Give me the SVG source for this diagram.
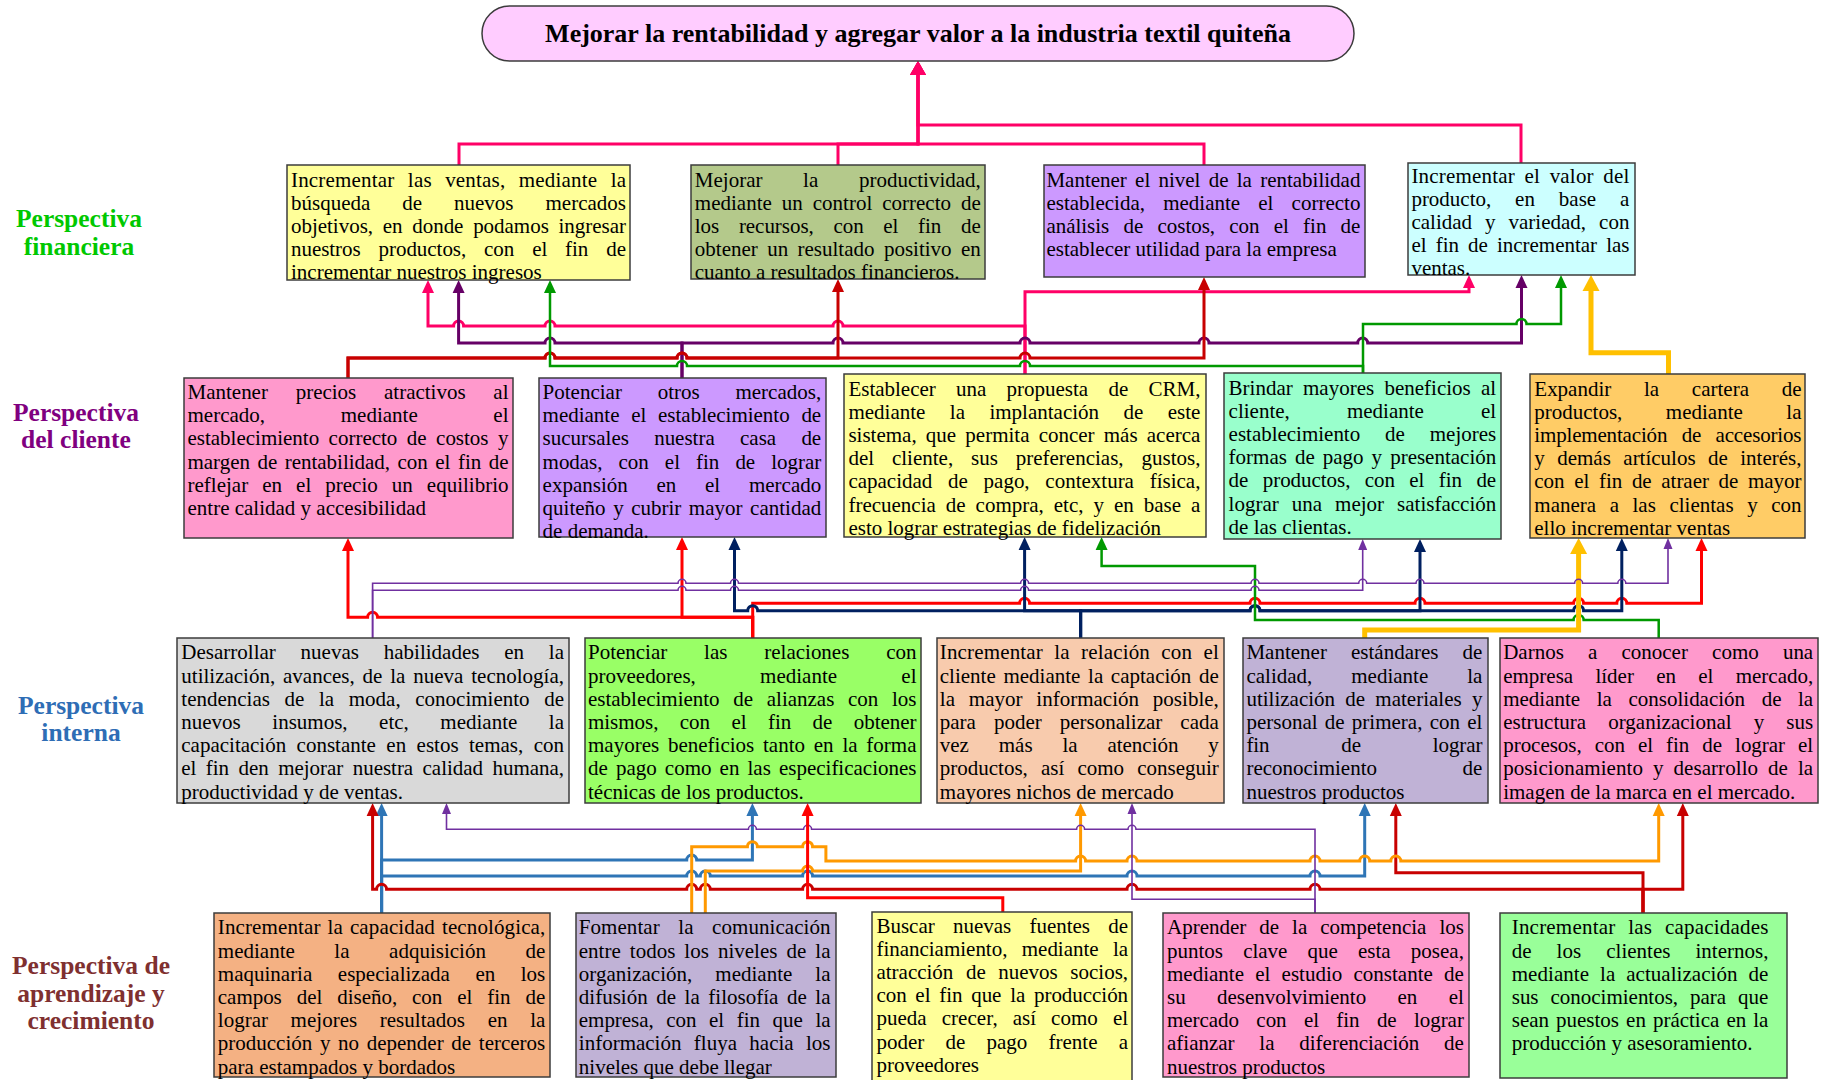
<svg xmlns="http://www.w3.org/2000/svg" width="1830" height="1080" viewBox="0 0 1830 1080">
<defs>
<style>
.t{font-family:"Liberation Serif","Times New Roman",serif;font-size:21px;fill:#000}
.ttl{font-family:"Liberation Serif","Times New Roman",serif;font-weight:bold;font-size:26px;fill:#000;text-anchor:middle}
.h{font-family:"Liberation Serif","Times New Roman",serif;font-weight:bold;font-size:25.5px;text-anchor:middle}
.b{stroke:#3c3c3c;stroke-width:1.5}
.w{fill:none;stroke-linejoin:miter;stroke-linecap:butt}
.pkT{stroke:#FF0066;stroke-width:3;marker-end:url(#aPkT)}
.pk{stroke:#FF0066;stroke-width:3;marker-end:url(#aPk)}
.pu{stroke:#660066;stroke-width:3;marker-end:url(#aPu)}
.dr{stroke:#C80000;stroke-width:3;marker-end:url(#aDr)}
.gr{stroke:#009900;stroke-width:2.5;marker-end:url(#aGr)}
.go{stroke:#FFC000;stroke-width:5;marker-end:url(#aGo)}
.rd{stroke:#FF0000;stroke-width:3;marker-end:url(#aRd)}
.nv{stroke:#002060;stroke-width:3;marker-end:url(#aNv)}
.th{stroke:#7030A0;stroke-width:1.6;marker-end:url(#aTh)}
.bl{stroke:#2E75B6;stroke-width:3;marker-end:url(#aBl)}
.or{stroke:#FF9900;stroke-width:3;marker-end:url(#aOr)}
</style>
<marker id="aPkT" markerUnits="userSpaceOnUse" markerWidth="14" markerHeight="16" refX="0" refY="8" orient="auto" overflow="visible"><path d="M0,0L14,8L0,16z" fill="#FF0066"/></marker>
<marker id="aPk" markerUnits="userSpaceOnUse" markerWidth="13" markerHeight="12" refX="0" refY="6" orient="auto" overflow="visible"><path d="M0,0L13,6L0,12z" fill="#FF0066"/></marker>
<marker id="aPu" markerUnits="userSpaceOnUse" markerWidth="13" markerHeight="12" refX="0" refY="6" orient="auto" overflow="visible"><path d="M0,0L13,6L0,12z" fill="#660066"/></marker>
<marker id="aDr" markerUnits="userSpaceOnUse" markerWidth="13" markerHeight="12" refX="0" refY="6" orient="auto" overflow="visible"><path d="M0,0L13,6L0,12z" fill="#C80000"/></marker>
<marker id="aGr" markerUnits="userSpaceOnUse" markerWidth="13" markerHeight="12" refX="0" refY="6" orient="auto" overflow="visible"><path d="M0,0L13,6L0,12z" fill="#009900"/></marker>
<marker id="aGo" markerUnits="userSpaceOnUse" markerWidth="16" markerHeight="17" refX="0" refY="8.5" orient="auto" overflow="visible"><path d="M0,0L16,8.5L0,17z" fill="#FFC000"/></marker>
<marker id="aRd" markerUnits="userSpaceOnUse" markerWidth="13" markerHeight="12" refX="0" refY="6" orient="auto" overflow="visible"><path d="M0,0L13,6L0,12z" fill="#FF0000"/></marker>
<marker id="aNv" markerUnits="userSpaceOnUse" markerWidth="13" markerHeight="12" refX="0" refY="6" orient="auto" overflow="visible"><path d="M0,0L13,6L0,12z" fill="#002060"/></marker>
<marker id="aTh" markerUnits="userSpaceOnUse" markerWidth="11" markerHeight="9" refX="0" refY="4.5" orient="auto" overflow="visible"><path d="M0,0L11,4.5L0,9z" fill="#7030A0"/></marker>
<marker id="aBl" markerUnits="userSpaceOnUse" markerWidth="13" markerHeight="12" refX="0" refY="6" orient="auto" overflow="visible"><path d="M0,0L13,6L0,12z" fill="#2E75B6"/></marker>
<marker id="aOr" markerUnits="userSpaceOnUse" markerWidth="13" markerHeight="12" refX="0" refY="6" orient="auto" overflow="visible"><path d="M0,0L13,6L0,12z" fill="#FF9900"/></marker>
</defs>
<rect width="1830" height="1080" fill="#fff"/>

<!-- row labels -->
<g id="labels">
<text class="h" fill="#00C800" x="79" y="227">Perspectiva</text>
<text class="h" fill="#00C800" x="79" y="255">financiera</text>
<text class="h" fill="#800080" x="76" y="421">Perspectiva</text>
<text class="h" fill="#800080" x="76" y="448">del cliente</text>
<text class="h" fill="#2E6DB5" x="81" y="714">Perspectiva</text>
<text class="h" fill="#2E6DB5" x="81" y="741">interna</text>
<text class="h" fill="#7F3030" x="91" y="974">Perspectiva de</text>
<text class="h" fill="#7F3030" x="91" y="1001.5">aprendizaje y</text>
<text class="h" fill="#7F3030" x="91" y="1029">crecimiento</text>
</g>

<!-- connectors -->
<g id="connectors" class="w">
<!-- financial to goal -->
<path class="pkT" d="M459,165V144H918V75"/>
<path class="pkT" d="M838,165V144H918V75"/>
<path class="pkT" d="M1204,165V144H918V75"/>
<path class="pkT" d="M1521,163V125H918V75"/>
<!-- client to financial -->
<path class="pk" d="M1025,374V326H843a5,5 0 0 0 -10,0H555a5,5 0 0 0 -10,0H463.6a5,5 0 0 0 -10,0H428V293"/>
<path class="pk" d="M1025,374V291.7H1469V288"/>
<path class="pu" d="M682,378V343H555a5,5 0 0 0 -10,0H458.6V293"/>
<path class="pu" d="M682,378V343H833a5,5 0 0 1 10,0H1020a5,5 0 0 1 10,0H1199a5,5 0 0 1 10,0H1357.7a5,5 0 0 1 10,0H1521.5V288"/>
<path class="dr" d="M348,378V358H545a5,5 0 0 1 10,0H677a5,5 0 0 1 10,0H838V292"/>
<path class="dr" d="M348,378V358H545a5,5 0 0 1 10,0H677a5,5 0 0 1 10,0H1020a5,5 0 0 1 10,0H1204V290"/>
<path class="gr" d="M1363,373V366H1030a5,5 0 0 0 -10,0H687a5,5 0 0 0 -10,0H550V293"/>
<path class="gr" d="M1363,373V324H1516.5a5,5 0 0 1 10,0H1561V288"/>
<path class="go" d="M1668.5,374V352.7H1591V291"/>
<!-- internal to client -->
<path class="rd" d="M752.7,638V617.3H377.6a5,5 0 0 0 -10,0H348V551"/>
<path class="rd" d="M752.7,638V617.3H682V550"/>
<path class="rd" d="M752.7,638V603.3H1019.6a5,5 0 0 1 10,0H1250a5,5 0 0 1 10,0H1415a5,5 0 0 1 10,0H1573.6a5,5 0 0 1 10,0H1616.8a5,5 0 0 1 10,0H1701.5V551"/>
<path class="nv" d="M1080.6,638V610.7H757.7a5,5 0 0 0 -10,0H734.5V550"/>
<path class="nv" d="M1080.6,638V610.7H1024.6V550"/>
<path class="nv" d="M1080.6,638V610.7H1250a5,5 0 0 1 10,0H1420V552"/>
<path class="nv" d="M1080.6,638V610.7H1250a5,5 0 0 1 10,0H1573.6a5,5 0 0 1 10,0H1621.8V551"/>
<path class="gr" d="M1658.7,638V620H1583.6a5,5 0 0 0 -10,0H1255V566H1101.6V550"/>
<path class="go" d="M1364.7,638V630H1578.6V554"/>
<path class="th" d="M372.6,638V590.3H678a4,4 0 0 1 8,0H730.5a4,4 0 0 1 8,0H1020.6a4,4 0 0 1 8,0H1251a4,4 0 0 1 8,0H1362.7V550"/>
<path class="th" d="M372.6,638V583.3H678a4,4 0 0 1 8,0H730.5a4,4 0 0 1 8,0H1020.6a4,4 0 0 1 8,0H1251a4,4 0 0 1 8,0H1358.7a4,4 0 0 1 8,0H1416a4,4 0 0 1 8,0H1574.6a4,4 0 0 1 8,0H1617.8a4,4 0 0 1 8,0H1668V549"/>
<!-- learning to internal -->
<path class="bl" d="M381.6,913V816"/>
<path class="bl" d="M381.6,913V860H686.7a5,5 0 0 1 10,0H752.4V816"/>
<path class="bl" d="M381.6,913V876H686.7a5,5 0 0 1 10,0H700.3a5,5 0 0 1 10,0H802.6a5,5 0 0 1 10,0H1127a5,5 0 0 1 10,0H1310a5,5 0 0 1 10,0H1364.7V816"/>
<path class="dr" d="M1643,913V889.3H1320a5,5 0 0 0 -10,0H1137a5,5 0 0 0 -10,0H812.6a5,5 0 0 0 -10,0H710.3a5,5 0 0 0 -10,0H696.7a5,5 0 0 0 -10,0H386.6a5,5 0 0 0 -10,0H372.6V816"/>
<path class="dr" d="M1643,913V872.7H1395.8V816"/>
<path class="dr" d="M1643,913V889.3H1682.8V816"/>
<path class="or" d="M691.7,913V846.7H747.4a5,5 0 0 1 10,0H802.6a5,5 0 0 1 10,0H825.9V861H1075.6a5,5 0 0 1 10,0H1127a5,5 0 0 1 10,0H1310a5,5 0 0 1 10,0H1359.7a5,5 0 0 1 10,0H1390.8a5,5 0 0 1 10,0H1658.7V816"/>
<path class="or" d="M705.3,913V871H802.6a5,5 0 0 1 10,0H1080.6V816"/>
<path class="th" d="M1315,913V829.3H1136a4,4 0 0 0 -8,0H1084.6a4,4 0 0 0 -8,0H811.6a4,4 0 0 0 -8,0H756.4a4,4 0 0 0 -8,0H446.5V814"/>
<path class="th" d="M1315,913V899.3H1132V814"/>
<path class="rd" d="M1002.8,912V897.7H807.6V816"/>
</g>

<!-- goal -->
<g id="goal">
<rect class="b" x="482" y="6" width="872" height="55" rx="27.5" fill="#FFCCFF"/>
<text class="ttl" x="918" y="41.5">Mejorar la rentabilidad y agregar valor a la industria textil quiteña</text>
</g>

<!-- financial perspective -->
<g id="f1">
<rect class="b" x="287" y="165" width="343" height="115" fill="#FFFF99"/>
<text class="t" x="291" y="187" textLength="335" lengthAdjust="spacing" word-spacing="8">Incrementar las ventas, mediante la</text>
<text class="t" x="291" y="210" textLength="335" lengthAdjust="spacing" word-spacing="26.7">búsqueda de nuevos mercados</text>
<text class="t" x="291" y="233" textLength="335" lengthAdjust="spacing" word-spacing="4.5">objetivos, en donde podamos ingresar</text>
<text class="t" x="291" y="256" textLength="335" lengthAdjust="spacing" word-spacing="12.7">nuestros productos, con el fin de</text>
<text class="t" x="291" y="279">incrementar nuestros ingresos</text>
</g>
<g id="f2">
<rect class="b" x="691" y="165" width="294" height="114" fill="#B4C98B"/>
<text class="t" x="694.8" y="187" textLength="286" lengthAdjust="spacing" word-spacing="35.4">Mejorar la productividad,</text>
<text class="t" x="694.8" y="210" textLength="286" lengthAdjust="spacing" word-spacing="4.7">mediante un control correcto de</text>
<text class="t" x="694.8" y="233" textLength="286" lengthAdjust="spacing" word-spacing="14.5">los recursos, con el fin de</text>
<text class="t" x="694.8" y="256" textLength="286" lengthAdjust="spacing" word-spacing="4.1">obtener un resultado positivo en</text>
<text class="t" x="694.8" y="279">cuanto a resultados financieros.</text>
</g>
<g id="f3">
<rect class="b" x="1044" y="165" width="321" height="112" fill="#CC99FF"/>
<text class="t" x="1046.4" y="187" textLength="314" lengthAdjust="spacing" word-spacing="3">Mantener el nivel de la rentabilidad</text>
<text class="t" x="1046.4" y="210" textLength="314" lengthAdjust="spacing" word-spacing="12.9">establecida, mediante el correcto</text>
<text class="t" x="1046.4" y="233" textLength="314" lengthAdjust="spacing" word-spacing="9">análisis de costos, con el fin de</text>
<text class="t" x="1046.4" y="256">establecer utilidad para la empresa</text>
</g>
<g id="f4">
<rect class="b" x="1408" y="163" width="227" height="112" fill="#CCFFFF"/>
<text class="t" x="1411.4" y="183" textLength="218" lengthAdjust="spacing" word-spacing="4.2">Incrementar el valor del</text>
<text class="t" x="1411.4" y="206" textLength="218" lengthAdjust="spacing" word-spacing="18.7">producto, en base a</text>
<text class="t" x="1411.4" y="229" textLength="218" lengthAdjust="spacing" word-spacing="7.75">calidad y variedad, con</text>
<text class="t" x="1411.4" y="252" textLength="218" lengthAdjust="spacing" word-spacing="4">el fin de incrementar las</text>
<text class="t" x="1411.4" y="275">ventas.</text>
</g>

<!-- client perspective -->
<g id="c1">
<rect class="b" x="184" y="378" width="329" height="160" fill="#FF99CC"/>
<text class="t" x="187.5" y="399" textLength="321" lengthAdjust="spacing" word-spacing="22.5">Mantener precios atractivos al</text>
<text class="t" x="187.5" y="422.2" textLength="321" lengthAdjust="spacing" word-spacing="70.3">mercado, mediante el</text>
<text class="t" x="187.5" y="445.4" textLength="321" lengthAdjust="spacing" word-spacing="4.25">establecimiento correcto de costos y</text>
<text class="t" x="187.5" y="468.6" textLength="321" lengthAdjust="spacing" word-spacing="2.3">margen de rentabilidad, con el fin de</text>
<text class="t" x="187.5" y="491.8" textLength="321" lengthAdjust="spacing" word-spacing="8.8">reflejar en el precio un equilibrio</text>
<text class="t" x="187.5" y="515">entre calidad y accesibilidad</text>
</g>
<g id="c2">
<rect class="b" x="539" y="378" width="287" height="159" fill="#CC99FF"/>
<text class="t" x="542.6" y="399" textLength="278.6" lengthAdjust="spacing" word-spacing="30.5">Potenciar otros mercados,</text>
<text class="t" x="542.6" y="422.2" textLength="278.6" lengthAdjust="spacing" word-spacing="6.5">mediante el establecimiento de</text>
<text class="t" x="542.6" y="445.4" textLength="278.6" lengthAdjust="spacing" word-spacing="20">sucursales nuestra casa de</text>
<text class="t" x="542.6" y="468.6" textLength="278.6" lengthAdjust="spacing" word-spacing="10.9">modas, con el fin de lograr</text>
<text class="t" x="542.6" y="491.8" textLength="278.6" lengthAdjust="spacing" word-spacing="23.5">expansión en el mercado</text>
<text class="t" x="542.6" y="515" textLength="278.6" lengthAdjust="spacing" word-spacing="2.3">quiteño y cubrir mayor cantidad</text>
<text class="t" x="542.6" y="538.2">de demanda.</text>
</g>
<g id="c3">
<rect class="b" x="844" y="374" width="362" height="163" fill="#FFFF99"/>
<text class="t" x="848.4" y="395.5" textLength="352" lengthAdjust="spacing" word-spacing="15">Establecer una propuesta de CRM,</text>
<text class="t" x="848.4" y="418.7" textLength="352" lengthAdjust="spacing" word-spacing="19.2">mediante la implantación de este</text>
<text class="t" x="848.4" y="441.9" textLength="352" lengthAdjust="spacing" word-spacing="3.9">sistema, que permita concer más acerca</text>
<text class="t" x="848.4" y="465.1" textLength="352" lengthAdjust="spacing" word-spacing="12.6">del cliente, sus preferencias, gustos,</text>
<text class="t" x="848.4" y="488.3" textLength="352" lengthAdjust="spacing" word-spacing="10.45">capacidad de pago, contextura física,</text>
<text class="t" x="848.4" y="511.5" textLength="352" lengthAdjust="spacing" word-spacing="4.75">frecuencia de compra, etc, y en base a</text>
<text class="t" x="848.4" y="534.7">esto lograr estrategias de fidelización</text>
</g>
<g id="c4">
<rect class="b" x="1224" y="373" width="277" height="166" fill="#99FFCC"/>
<text class="t" x="1228.6" y="394.5" textLength="267.6" lengthAdjust="spacing" word-spacing="5">Brindar mayores beneficios al</text>
<text class="t" x="1228.6" y="417.7" textLength="267.6" lengthAdjust="spacing" word-spacing="51.85">cliente, mediante el</text>
<text class="t" x="1228.6" y="440.9" textLength="267.6" lengthAdjust="spacing" word-spacing="19.7">establecimiento de mejores</text>
<text class="t" x="1228.6" y="464.1" textLength="267.6" lengthAdjust="spacing" word-spacing="2.8">formas de pago y presentación</text>
<text class="t" x="1228.6" y="487.3" textLength="267.6" lengthAdjust="spacing" word-spacing="9.2">de productos, con el fin de</text>
<text class="t" x="1228.6" y="510.5" textLength="267.6" lengthAdjust="spacing" word-spacing="7.8">lograr una mejor satisfacción</text>
<text class="t" x="1228.6" y="533.7">de las clientas.</text>
</g>
<g id="c5">
<rect class="b" x="1530" y="374" width="275" height="164" fill="#FFCC66"/>
<text class="t" x="1534.3" y="395.5" textLength="267.2" lengthAdjust="spacing" word-spacing="27.45">Expandir la cartera de</text>
<text class="t" x="1534.3" y="418.7" textLength="267.2" lengthAdjust="spacing" word-spacing="38.25">productos, mediante la</text>
<text class="t" x="1534.3" y="441.9" textLength="267.2" lengthAdjust="spacing" word-spacing="9.35">implementación de accesorios</text>
<text class="t" x="1534.3" y="465.1" textLength="267.2" lengthAdjust="spacing" word-spacing="7.2">y demás artículos de interés,</text>
<text class="t" x="1534.3" y="488.3" textLength="267.2" lengthAdjust="spacing" word-spacing="4.5">con el fin de atraer de mayor</text>
<text class="t" x="1534.3" y="511.5" textLength="267.2" lengthAdjust="spacing" word-spacing="8.3">manera a las clientas y con</text>
<text class="t" x="1534.3" y="534.7">ello incrementar ventas</text>
</g>

<!-- internal perspective -->
<g id="i1">
<rect class="b" x="177" y="638" width="392" height="165" fill="#D9D9D9"/>
<text class="t" x="181.3" y="659.3" textLength="382.7" lengthAdjust="spacing" word-spacing="19.55">Desarrollar nuevas habilidades en la</text>
<text class="t" x="181.3" y="682.5" textLength="382.7" lengthAdjust="spacing" word-spacing="2.6">utilización, avances, de la nueva tecnología,</text>
<text class="t" x="181.3" y="705.7" textLength="382.7" lengthAdjust="spacing" word-spacing="9.4">tendencias de la moda, conocimiento de</text>
<text class="t" x="181.3" y="728.9" textLength="382.7" lengthAdjust="spacing" word-spacing="26.25">nuevos insumos, etc, mediante la</text>
<text class="t" x="181.3" y="752.1" textLength="382.7" lengthAdjust="spacing" word-spacing="5.2">capacitación constante en estos temas, con</text>
<text class="t" x="181.3" y="775.3" textLength="382.7" lengthAdjust="spacing" word-spacing="4.2">el fin den mejorar nuestra calidad humana,</text>
<text class="t" x="181.3" y="798.5">productividad y de ventas.</text>
</g>
<g id="i2">
<rect class="b" x="585" y="638" width="336" height="165" fill="#99FF66"/>
<text class="t" x="588" y="659.3" textLength="328.5" lengthAdjust="spacing" word-spacing="31.6">Potenciar las relaciones con</text>
<text class="t" x="588" y="682.5" textLength="328.5" lengthAdjust="spacing" word-spacing="59">proveedores, mediante el</text>
<text class="t" x="588" y="705.7" textLength="328.5" lengthAdjust="spacing" word-spacing="8.5">establecimiento de alianzas con los</text>
<text class="t" x="588" y="728.9" textLength="328.5" lengthAdjust="spacing" word-spacing="16.2">mismos, con el fin de obtener</text>
<text class="t" x="588" y="752.1" textLength="328.5" lengthAdjust="spacing" word-spacing="3.55">mayores beneficios tanto en la forma</text>
<text class="t" x="588" y="775.3" textLength="328.5" lengthAdjust="spacing" word-spacing="2.85">de pago como en las especificaciones</text>
<text class="t" x="588" y="798.5">técnicas de los productos.</text>
</g>
<g id="i3">
<rect class="b" x="937" y="638" width="287" height="165" fill="#F8CBAD"/>
<text class="t" x="939.8" y="659.3" textLength="279" lengthAdjust="spacing" word-spacing="6">Incrementar la relación con el</text>
<text class="t" x="939.8" y="682.5" textLength="279" lengthAdjust="spacing" word-spacing="2.4">cliente mediante la captación de</text>
<text class="t" x="939.8" y="705.7" textLength="279" lengthAdjust="spacing" word-spacing="8.6">la mayor información posible,</text>
<text class="t" x="939.8" y="728.9" textLength="279" lengthAdjust="spacing" word-spacing="12.75">para poder personalizar cada</text>
<text class="t" x="939.8" y="752.1" textLength="279" lengthAdjust="spacing" word-spacing="24.6">vez más la atención y</text>
<text class="t" x="939.8" y="775.3" textLength="279" lengthAdjust="spacing" word-spacing="7.9">productos, así como conseguir</text>
<text class="t" x="939.8" y="798.5">mayores nichos de mercado</text>
</g>
<g id="i4">
<rect class="b" x="1243" y="638" width="245" height="165" fill="#C0B2D6"/>
<text class="t" x="1246.4" y="659.3" textLength="236" lengthAdjust="spacing" word-spacing="18.85">Mantener estándares de</text>
<text class="t" x="1246.4" y="682.5" textLength="236" lengthAdjust="spacing" word-spacing="33.7">calidad, mediante la</text>
<text class="t" x="1246.4" y="705.7" textLength="236" lengthAdjust="spacing" word-spacing="5">utilización de materiales y</text>
<text class="t" x="1246.4" y="728.9" textLength="236" lengthAdjust="spacing" word-spacing="2">personal de primera, con el</text>
<text class="t" x="1246.4" y="752.1" textLength="236" lengthAdjust="spacing" word-spacing="66.7">fin de lograr</text>
<text class="t" x="1246.4" y="775.3" textLength="236" lengthAdjust="spacing" word-spacing="80.35">reconocimiento de</text>
<text class="t" x="1246.4" y="798.5">nuestros productos</text>
</g>
<g id="i5">
<rect class="b" x="1500" y="638" width="318" height="165" fill="#FF99CC"/>
<text class="t" x="1503.2" y="659.3" textLength="310" lengthAdjust="spacing" word-spacing="18.9">Darnos a conocer como una</text>
<text class="t" x="1503.2" y="682.5" textLength="310" lengthAdjust="spacing" word-spacing="17">empresa líder en el mercado,</text>
<text class="t" x="1503.2" y="705.7" textLength="310" lengthAdjust="spacing" word-spacing="11.3">mediante la consolidación de la</text>
<text class="t" x="1503.2" y="728.9" textLength="310" lengthAdjust="spacing" word-spacing="16.85">estructura organizacional y sus</text>
<text class="t" x="1503.2" y="752.1" textLength="310" lengthAdjust="spacing" word-spacing="7.8">procesos, con el fin de lograr el</text>
<text class="t" x="1503.2" y="775.3" textLength="310" lengthAdjust="spacing" word-spacing="4.65">posicionamiento y desarrollo de la</text>
<text class="t" x="1503.2" y="798.5">imagen de la marca en el mercado.</text>
</g>

<!-- learning and growth perspective -->
<g id="l1">
<rect class="b" x="214" y="913" width="336" height="164" fill="#F4B183"/>
<text class="t" x="217.8" y="934.3" textLength="327.5" lengthAdjust="spacing" word-spacing="1.6">Incrementar la capacidad tecnológica,</text>
<text class="t" x="217.8" y="957.5" textLength="327.5" lengthAdjust="spacing" word-spacing="34.3">mediante la adquisición de</text>
<text class="t" x="217.8" y="980.7" textLength="327.5" lengthAdjust="spacing" word-spacing="20.3">maquinaria especializada en los</text>
<text class="t" x="217.8" y="1003.9" textLength="327.5" lengthAdjust="spacing" word-spacing="9.75">campos del diseño, con el fin de</text>
<text class="t" x="217.8" y="1027.1" textLength="327.5" lengthAdjust="spacing" word-spacing="17.4">lograr mejores resultados en la</text>
<text class="t" x="217.8" y="1050.3" textLength="327.5" lengthAdjust="spacing" word-spacing="2.4">producción y no depender de terceros</text>
<text class="t" x="217.8" y="1073.5">para estampados y bordados</text>
</g>
<g id="l2">
<rect class="b" x="576" y="913" width="260" height="164" fill="#C0B2D6"/>
<text class="t" x="578.8" y="934.3" textLength="251.7" lengthAdjust="spacing" word-spacing="13.25">Fomentar la comunicación</text>
<text class="t" x="578.8" y="957.5" textLength="251.7" lengthAdjust="spacing" word-spacing="3.8">entre todos los niveles de la</text>
<text class="t" x="578.8" y="980.7" textLength="251.7" lengthAdjust="spacing" word-spacing="17.65">organización, mediante la</text>
<text class="t" x="578.8" y="1003.9" textLength="251.7" lengthAdjust="spacing" word-spacing="3.3">difusión de la filosofía de la</text>
<text class="t" x="578.8" y="1027.1" textLength="251.7" lengthAdjust="spacing" word-spacing="7.4">empresa, con el fin que la</text>
<text class="t" x="578.8" y="1050.3" textLength="251.7" lengthAdjust="spacing" word-spacing="7.1">información fluya hacia los</text>
<text class="t" x="578.8" y="1073.5">niveles que debe llegar</text>
</g>
<g id="l3">
<rect class="b" x="872" y="912" width="260" height="172" fill="#FFFF99"/>
<text class="t" x="876.4" y="932.5" textLength="251.7" lengthAdjust="spacing" word-spacing="13">Buscar nuevas fuentes de</text>
<text class="t" x="876.4" y="955.7" textLength="251.7" lengthAdjust="spacing" word-spacing="9.1">financiamiento, mediante la</text>
<text class="t" x="876.4" y="978.9" textLength="251.7" lengthAdjust="spacing" word-spacing="7.3">atracción de nuevos socios,</text>
<text class="t" x="876.4" y="1002.1" textLength="251.7" lengthAdjust="spacing" word-spacing="3.55">con el fin que la producción</text>
<text class="t" x="876.4" y="1025.3" textLength="251.7" lengthAdjust="spacing" word-spacing="9.7">pueda crecer, así como el</text>
<text class="t" x="876.4" y="1048.5" textLength="251.7" lengthAdjust="spacing" word-spacing="16">poder de pago frente a</text>
<text class="t" x="876.4" y="1071.7">proveedores</text>
</g>
<g id="l4">
<rect class="b" x="1163" y="913" width="306" height="164" fill="#FF99CC"/>
<text class="t" x="1167" y="934.3" textLength="296.9" lengthAdjust="spacing" word-spacing="7.75">Aprender de la competencia los</text>
<text class="t" x="1167" y="957.5" textLength="296.9" lengthAdjust="spacing" word-spacing="14.9">puntos clave que esta posea,</text>
<text class="t" x="1167" y="980.7" textLength="296.9" lengthAdjust="spacing" word-spacing="6">mediante el estudio constante de</text>
<text class="t" x="1167" y="1003.9" textLength="296.9" lengthAdjust="spacing" word-spacing="26.2">su desenvolvimiento en el</text>
<text class="t" x="1167" y="1027.1" textLength="296.9" lengthAdjust="spacing" word-spacing="12.15">mercado con el fin de lograr</text>
<text class="t" x="1167" y="1050.3" textLength="296.9" lengthAdjust="spacing" word-spacing="19.5">afianzar la diferenciación de</text>
<text class="t" x="1167" y="1073.5">nuestros productos</text>
</g>
<g id="l5">
<rect class="b" x="1500" y="913" width="287" height="165" fill="#99FF99"/>
<text class="t" x="1511.7" y="934.3" textLength="256.7" lengthAdjust="spacing" word-spacing="7.3">Incrementar las capacidades</text>
<text class="t" x="1511.7" y="957.5" textLength="256.7" lengthAdjust="spacing" word-spacing="19.85">de los clientes internos,</text>
<text class="t" x="1511.7" y="980.7" textLength="256.7" lengthAdjust="spacing" word-spacing="5.65">mediante la actualización de</text>
<text class="t" x="1511.7" y="1003.9" textLength="256.7" lengthAdjust="spacing" word-spacing="6.7">sus conocimientos, para que</text>
<text class="t" x="1511.7" y="1027.1" textLength="256.7" lengthAdjust="spacing" word-spacing="1.8">sean puestos en práctica en la</text>
<text class="t" x="1511.7" y="1050.3">producción y asesoramiento.</text>
</g>
</svg>
